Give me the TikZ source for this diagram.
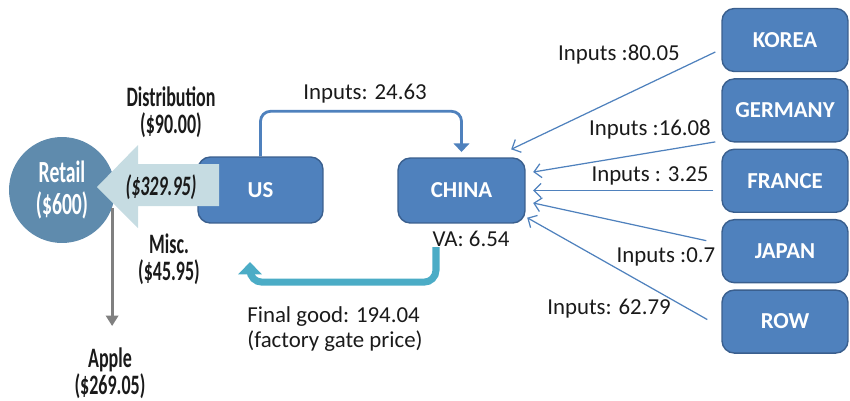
\documentclass[tikz,border=0pt]{standalone}
\usepackage{fontspec}
\setmainfont{Carlito}
\newfontfamily\condfont[FakeStretch=0.64]{Carlito}
\usetikzlibrary{arrows.meta, positioning}
\definecolor{boxblue}{HTML}{4F81BD}
\definecolor{boxedge}{HTML}{3A5F8E}
\definecolor{retailblue}{HTML}{5F8BAD}
\definecolor{flowgrey}{HTML}{C6DCE2}
\definecolor{finalteal}{HTML}{4BACC6}
\definecolor{applegrey}{HTML}{808080}
\definecolor{darktext}{HTML}{1A1A1A}

\begin{document}
\begin{tikzpicture}[
  x=0.02cm, y=-0.02cm,
  country/.style={rectangle, draw=boxedge, line width=0.8pt, rounded corners=7pt, fill=boxblue, text=white, font=\fontsize{13}{15}\selectfont\bfseries, minimum width=2.52cm, minimum height=1.26cm},
  lbl/.style={font=\fontsize{13}{14.5}\selectfont, text=darktext, inner sep=0pt},
  cond/.style={font=\fontsize{16}{15.5}\selectfont\condfont\bfseries, text=darktext, align=center, inner sep=0pt},
  input/.style={-{Straight Barb[length=4pt,width=8pt]}, boxblue, line width=0.7pt},
  usinput/.style={-{Triangle[length=5pt,width=9pt]}, boxblue, line width=1.6pt, rounded corners=0.2cm},
  finalarrow/.style={-{Triangle[length=7pt,width=13pt]}, finalteal, line width=4pt, rounded corners=0.24cm},
  applearrow/.style={-{Triangle[length=6pt,width=7pt]}, applegrey, line width=1.7pt},
  node distance=0.12cm
]
\useasboundingbox (0,0) rectangle (850,400);

% retail side
\node[circle, fill=retailblue, minimum size=2.12cm, inner sep=0pt, text=white, align=center,
  font=\fontsize{17.5}{18}\selectfont\condfont\bfseries] (retail) at (62,190) {Retail\\(\$600)};
\node[country, minimum width=2.5cm, minimum height=1.32cm] (us) at (260.5,190) {US};
\fill[flowgrey] (97,187) -- (138,145) -- (138,164) -- (219,164) -- (219,206) -- (138,206) -- (138,228) -- cycle;
\node[cond, font=\fontsize{16}{15.5}\selectfont\condfont\bfseries\itshape] (usflow) at (161,187) {(\$329.95)};

\node[cond] (distr) at (171,112) {Distribution\\(\$90.00)};
\node[cond] (misc) at (169,259) {Misc.\\(\$45.95)};
\node[cond] (apple) at (110,373) {Apple\\(\$269.05)};
\draw[applearrow, shorten >=0.42cm] (retail.-20) -- (retail.-20 |- apple.north);

% china and suppliers
\node[country, minimum width=2.54cm, minimum height=1.3cm] (china) at (461.5,190.5) {CHINA};
\node[country] (korea) at (785,40) {KOREA};
\node[country, below=of korea] (germany) {GERMANY};
\node[country, below=of germany] (france) {FRANCE};
\node[country, below=of france] (japan) {JAPAN};
\node[country, below=of japan] (row) {ROW};

\draw[input] ([xshift=-0.12cm, yshift=-0.24cm]korea.west) -- ([xshift=-0.29cm, yshift=0.16cm]china.north east);
\draw[input] ([xshift=-0.12cm, yshift=-0.63cm]germany.west) -- ([xshift=0.15cm, yshift=0.37cm]china.east);
\draw[input] ([xshift=-0.16cm]france.west |- china.east) -- ([xshift=0.15cm]china.east);
\draw[input] ([xshift=-0.3cm, yshift=0.21cm]japan.west) -- ([xshift=0.15cm, yshift=-0.25cm]china.east);
\draw[input] ([xshift=-0.28cm, yshift=0.04cm]row.west) -- ([xshift=0.03cm, yshift=0.12cm]china.south east);

\node[lbl] (inkorea) at (619,55) {Inputs :80.05};
\node[lbl] (ingermany) at (650,130) {Inputs :16.08};
\node[lbl] (infrance) at (650,176) {Inputs : 3.25};
\node[lbl] (injapan) at (666,257) {Inputs :0.7};
\node[lbl] (inrow) at (609,309) {Inputs: 62.79};

% trade between us and china
\draw[usinput, shorten >=3pt] (us.north) -- ++(0,-45) -| (china.north);
\node[lbl] (inus) at (365,94) {Inputs: 24.63};
\node[lbl] (va) at (471,239) {VA: 6.54};
\coordinate (fgtip) at (250,262);
\draw[finalarrow] ([xshift=-0.7cm]va.south) -- ++(0,35) -| (fgtip);
\node[lbl, anchor=north west, align=left] (final) at (247,306) {Final good: 194.04\\(factory gate price)};

\end{tikzpicture}
\end{document}
